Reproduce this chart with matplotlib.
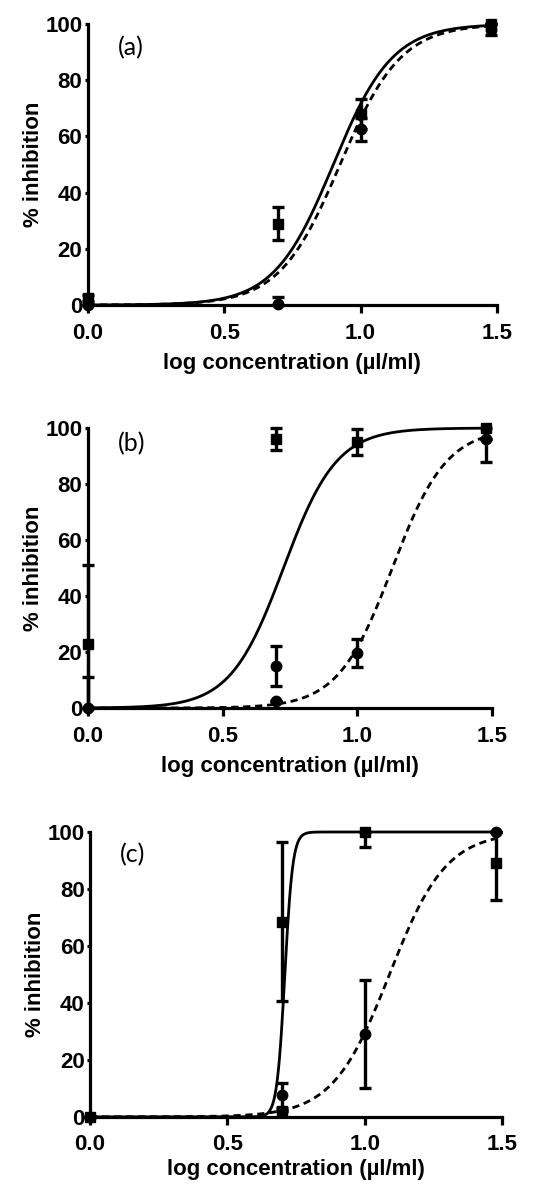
import matplotlib
matplotlib.use('Agg')
import matplotlib.pyplot as plt
import numpy as np

plt.rcParams['font.family'] = ['Liberation Sans', 'DejaVu Sans']
plt.rcParams['font.weight'] = 'bold'

# log concentration (ul/ml)
# panel (a)
a_sq_x = [0.0, 0.699, 1.0, 1.477]
a_sq_y = [2.5, 29.0, 68.0, 100.0]
a_sq_err = [1.0, 6.0, 5.5, 0.0]
a_ci_x = [0.0, 0.699, 1.0, 1.477]
a_ci_y = [0.0, 0.5, 62.5, 98.0]
a_ci_err = [0.0, 2.5, 4.0, 2.0]
a_fit = [(0.90, 4.0), (0.925, 3.9)]   # (logEC50, hill) solid, dashed

# panel (b)
b_sq_x = [0.0, 0.699, 1.0, 1.477]
b_sq_y = [23.0, 96.0, 95.0, 100.0]
b_sq_err = [28.0, 4.0, 4.5, 12.0]
b_ci_x = [0.0, 0.699, 0.699, 1.0, 1.477]
b_ci_y = [0.0, 15.0, 2.6, 19.5, 96.0]
b_ci_err = [11.0, 7.0, 0.0, 5.0, 0.0]
b_fit = [(0.726, 4.4), (1.13, 4.3)]

# panel (c)
c_sq_x = [0.0, 0.699, 0.699, 1.0, 1.477]
c_sq_y = [0.0, 68.5, 2.0, 100.0, 89.0]
c_sq_err = [0.0, 28.0, 0.0, 5.3, 13.0]
c_ci_x = [0.0, 0.699, 1.0, 1.477]
c_ci_y = [0.0, 7.5, 29.0, 100.0]
c_ci_err = [0.0, 4.5, 19.0, 0.0]
c_fit = [(0.709, 30.0), (1.09, 4.2)]

panel_labels = ['(a)', '(b)', '(c)']
x_ticks = [0.0, 0.5, 1.0, 1.5]
y_ticks = [0, 20, 40, 60, 80, 100]


def hill(x, ec50, h):
    return 100.0 / (1.0 + 10 ** ((ec50 - x) * h))


def draw_points(ax, x, y, err, marker):
    y = np.array(y)
    err = np.array(err)
    lo = np.minimum(err, y)
    hi = np.minimum(err, 100 - y)
    ax.errorbar(x, y, yerr=[lo, hi], fmt=marker, color='black', ms=7.5,
                elinewidth=2.4, capsize=4, capthick=2.4, clip_on=False, zorder=4)


fig = plt.figure(figsize=(5.46, 11.85), dpi=100)
boxes = [[0.161, 0.7426, 0.749, 0.2371],
         [0.161, 0.4025, 0.740, 0.2363],
         [0.165, 0.0575, 0.7546, 0.2404]]
label_y = [0.915, 0.943, 0.92]
xlabel_pad = [6.5, 6.5, 3.5]
panels = [(a_sq_x, a_sq_y, a_sq_err, a_ci_x, a_ci_y, a_ci_err, a_fit),
          (b_sq_x, b_sq_y, b_sq_err, b_ci_x, b_ci_y, b_ci_err, b_fit),
          (c_sq_x, c_sq_y, c_sq_err, c_ci_x, c_ci_y, c_ci_err, c_fit)]

for i, (sx, sy, se, cx, cy, ce, fit) in enumerate(panels):
    ax = fig.add_axes(boxes[i])
    xx = np.linspace(0, 1.477, 400)
    ax.plot(xx, hill(xx, *fit[0]), color='black', lw=2.0, clip_on=False, zorder=3)
    ax.plot(xx, hill(xx, *fit[1]), color='black', lw=2.0, ls=(0, (2.6, 1.7)),
            clip_on=False, zorder=3)
    draw_points(ax, sx, sy, se, 's')
    draw_points(ax, cx, cy, ce, 'o')
    ax.set_xlim(0, 1.5)
    ax.set_ylim(0, 100)
    ax.set_xticks(x_ticks)
    ax.set_xticklabels(['%.1f' % t for t in x_ticks])
    ax.set_yticks(y_ticks)
    ax.spines['top'].set_visible(False)
    ax.spines['right'].set_visible(False)
    for s in ['left', 'bottom']:
        ax.spines[s].set_linewidth(2.3)
    ax.tick_params(direction='out', width=2.3, labelsize=16)
    ax.tick_params(axis='x', length=6, pad=7 if i < 2 else 6)
    ax.tick_params(axis='y', length=2.5, pad=1.5)
    ax.set_xlabel('log concentration (\u00b5l/ml)', fontsize=16, fontweight='bold',
                  labelpad=xlabel_pad[i])
    ax.set_ylabel('% inhibition', fontsize=16, fontweight='bold', labelpad=1)
    ax.text(0.073, label_y[i], panel_labels[i], transform=ax.transAxes,
            fontsize=18, fontweight='normal', family=['Lato', 'DejaVu Sans'],
            va='center', ha='left')

fig.savefig('out.png', dpi=100)
